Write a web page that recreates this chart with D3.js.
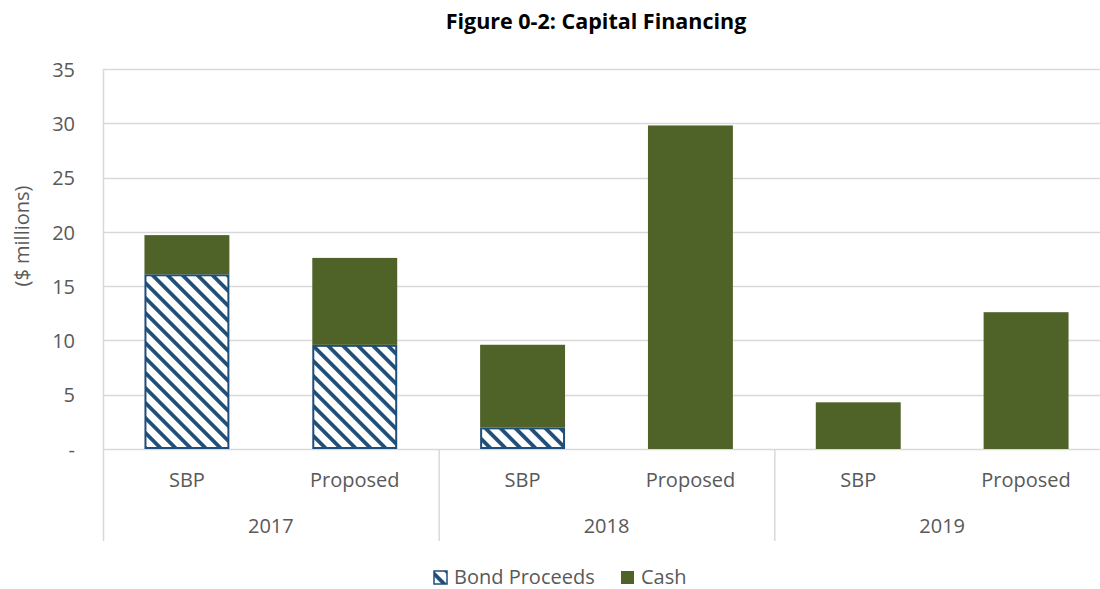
<!DOCTYPE html>
<html>
  <head>
    <title>Capital Financing</title>
    <script src="https://d3js.org/d3.v7.min.js"></script>
    <style>
      body { margin: 0; background: #fff; }
      text { font-family: "Open Sans", sans-serif; }
    </style>
  </head>
  <body>
    <div id="chart"></div>

    <script>
      // data
      const years = ["2017", "2018", "2019"];
      const scenarios = ["SBP", "Proposed"];
      const bondProceeds = [16.0, 9.5, 1.9, 0, 0, 0];
      const cash = [3.7, 8.1, 7.7, 29.8, 4.3, 12.6];
      const yTicks = [0, 5, 10, 15, 20, 25, 30, 35];

      const width = 1100, height = 589;
      const plotLeft = 103, plotRight = 1110, plotTop = 69, plotBottom = 449;

      const blue = "#1F4E79", green = "#4F6228", grey = "#595959", grid = "#D9D9D9";

      const svg = d3.select("#chart").append("svg")
        .attr("width", width).attr("height", height);

      // hatch for bond proceeds
      const defs = svg.append("defs");
      const pat = defs.append("pattern")
        .attr("id", "hatch")
        .attr("patternUnits", "userSpaceOnUse")
        .attr("width", 10.6).attr("height", 10.6)
        .attr("patternTransform", "rotate(45)");
      pat.append("rect").attr("width", 10.6).attr("height", 10.6).attr("fill", "#fff");
      pat.append("rect").attr("width", 10.6).attr("height", 3.8).attr("fill", blue);

      const rows = [];
      years.forEach((yr, i) => scenarios.forEach((s, j) => {
        const k = i * 2 + j;
        rows.push({ key: yr + "|" + s, year: yr, scenario: s, bond: bondProceeds[k], cash: cash[k] });
      }));

      const x = d3.scaleBand()
        .domain(rows.map(d => d.key))
        .range([plotLeft, plotRight])
        .paddingInner(0.494)
        .paddingOuter(0.247);
      const step = x.step();

      const y = d3.scaleLinear().domain([0, 35]).range([plotBottom, plotTop]);

      // gridlines
      svg.append("g").selectAll("line")
        .data(yTicks)
        .enter().append("line")
        .attr("x1", plotLeft).attr("x2", width)
        .attr("y1", d => Math.round(y(d)) + 0.5).attr("y2", d => Math.round(y(d)) + 0.5)
        .attr("stroke", grid).attr("stroke-width", 1.3);

      // y axis labels
      const yAxis = svg.append("g")
        .attr("transform", `translate(${plotLeft - 28},0)`)
        .call(d3.axisLeft(y).tickValues(yTicks).tickSize(0).tickPadding(0)
          .tickFormat(d => d === 0 ? "-" : d));
      yAxis.select(".domain").remove();
      yAxis.selectAll("text")
        .attr("font-family", "Open Sans").attr("font-size", 20).attr("fill", grey)
        .attr("dy", "0.36em");

      svg.append("text")
        .attr("transform", "translate(29,236) rotate(-90)")
        .attr("text-anchor", "middle")
        .attr("font-size", 20).attr("fill", grey)
        .text("($ millions)");

      // left axis line and group separators
      svg.append("line")
        .attr("x1", plotLeft + 0.5).attr("x2", plotLeft + 0.5)
        .attr("y1", plotTop).attr("y2", 541)
        .attr("stroke", grid).attr("stroke-width", 1.5);
      svg.append("g").selectAll("line")
        .data(years)
        .enter().append("line")
        .attr("x1", (d, i) => plotLeft + (i + 1) * step * 2 + 0.5)
        .attr("x2", (d, i) => plotLeft + (i + 1) * step * 2 + 0.5)
        .attr("y1", plotBottom).attr("y2", 541)
        .attr("stroke", grid).attr("stroke-width", 1.5);

      // bars
      const bars = svg.append("g").selectAll("g")
        .data(rows)
        .enter().append("g");

      bars.filter(d => d.bond > 0).append("rect")
        .attr("x", d => x(d.key) + 1)
        .attr("width", x.bandwidth() - 2)
        .attr("y", d => y(d.bond))
        .attr("height", d => y(0) - y(d.bond) - 1)
        .attr("fill", "url(#hatch)")
        .attr("stroke", blue).attr("stroke-width", 2);

      bars.append("rect")
        .attr("x", d => x(d.key))
        .attr("width", x.bandwidth())
        .attr("y", d => y(d.bond + d.cash))
        .attr("height", d => y(d.bond) - y(d.bond + d.cash) - (d.bond > 0 ? 1 : 0))
        .attr("fill", green);

      // category labels
      svg.append("g").selectAll("text")
        .data(rows)
        .enter().append("text")
        .attr("x", d => x(d.key) + x.bandwidth() / 2)
        .attr("y", 487)
        .attr("text-anchor", "middle")
        .attr("font-size", 20).attr("fill", grey)
        .text(d => d.scenario);

      svg.append("g").selectAll("text")
        .data(years)
        .enter().append("text")
        .attr("x", (d, i) => plotLeft + (i * 2 + 1) * step)
        .attr("y", 533)
        .attr("text-anchor", "middle")
        .attr("font-size", 20).attr("fill", grey)
        .text(d => d);

      // title
      svg.append("text")
        .attr("x", 596).attr("y", 29)
        .attr("text-anchor", "middle")
        .attr("font-size", 21.5).attr("font-weight", "bold").attr("fill", "#000")
        .text("Figure 0-2: Capital Financing");

      // legend
      const legend = [
        { name: "Bond Proceeds", fill: "url(#hatch)", stroke: blue, x: 434 },
        { name: "Cash", fill: green, stroke: "none", x: 621 }
      ];
      const lg = svg.append("g").selectAll("g")
        .data(legend)
        .enter().append("g")
        .attr("transform", d => `translate(${d.x},571)`);
      lg.append("rect")
        .attr("width", 13).attr("height", 13)
        .attr("fill", d => d.fill)
        .attr("stroke", d => d.stroke).attr("stroke-width", 1.5);
      lg.append("text")
        .attr("x", 20).attr("y", 12.5)
        .attr("font-size", 20).attr("fill", grey)
        .text(d => d.name);
    </script>
  </body>
</html>
